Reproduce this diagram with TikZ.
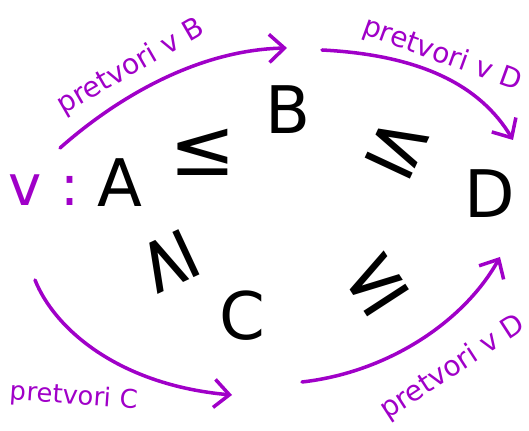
\documentclass[tikz,border=0pt]{standalone}
\usepackage{fontspec}
\setmainfont{DejaVu Sans}
\usetikzlibrary{arrows.meta}
\definecolor{vijola}{RGB}{160,0,200}

\begin{document}
\begin{tikzpicture}[
	x=0.03cm, y=-0.03cm,
	crka/.style={font=\fontsize{56}{56}\selectfont, black, inner sep=0pt},
	rel/.style={font=\fontsize{68}{68}\selectfont, black, inner sep=0pt},
	napis/.style={font=\fontsize{24}{24}\selectfont, vijola, inner sep=0pt},
	pretvorba/.style={line width=3pt, vijola, line cap=round,
		-{Straight Barb[length=13pt,width=24pt,line width=3pt]}},
	]
	\useasboundingbox (0,0) rectangle (529,431);

	%% problemi
	\node[crka] (A) at (120,183) {A};
	\node[crka] (B) at (288,110) {B};
	\node[crka] (C) at (242,316) {C};
	\node[crka] (D) at (490,194) {D};
	\node[napis, font=\fontsize{48}{48}\selectfont] (vhod) at (44,190) {v :};

	%% relacije med problemi
	\node[rel] (AB) at (203,152) {≤};
	\node[rel, rotate=-25] (BD) at (398,148) {≤};
	\node[rel, rotate=115] (AC) at (168,262) {≥};
	\node[rel, rotate=33] (CD) at (376,284) {≤};

	%% pretvorbe (puščice)
	\coordinate (zB) at (60,148);   \coordinate (kB) at (287,48);
	\coordinate (zD) at (322,50);   \coordinate (kD) at (513,140);
	\coordinate (zC) at (35,280);   \coordinate (kC) at (232,395);
	\coordinate (zCD) at (302,382); \coordinate (kCD) at (500,257);
	\draw[pretvorba] (zB) .. controls (120,95) and (200,50) .. (kB);
	\draw[pretvorba] (zD) .. controls (420,55) and (480,85) .. (kD);
	\draw[pretvorba] (zC) .. controls (55,330) and (120,385) .. (kC);
	\draw[pretvorba] (zCD) .. controls (390,372) and (465,320) .. (kCD);

	%% napisi ob puščicah
	\node[napis, rotate=30] (nB) at (131,67) {pretvori v B};
	\node[napis, rotate=-20] (nD) at (442,55) {pretvori v D};
	\node[napis, font=\fontsize{22}{22}\selectfont, rotate=-4] (nC) at (74,397) {pretvori C};
	\node[napis, rotate=33] (nCD) at (453,368) {pretvori v D};
\end{tikzpicture}
\end{document}
